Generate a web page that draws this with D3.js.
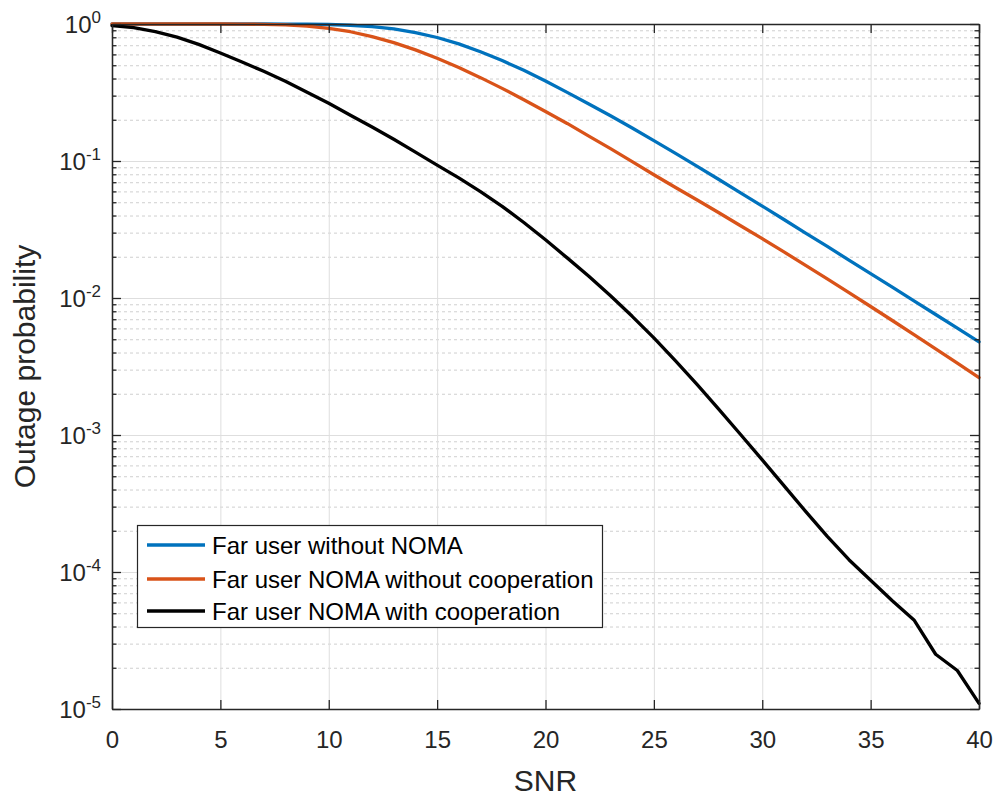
<!DOCTYPE html>
<html>
<head>
<meta charset="utf-8">
<script src="https://cdn.jsdelivr.net/npm/d3@7"></script>
<style>
  html, body { margin: 0; padding: 0; background: #fff; }
  svg { display: block; }
  text { font-family: "Liberation Sans", Arial, Helvetica, sans-serif; }
</style>
</head>
<body>
<svg id="chart" width="998" height="799"></svg>
<script>
// ---- data ----
const snr = [0,1,2,3,4,5,6,7,8,9,10,11,12,13,14,15,16,17,18,19,20,21,22,23,24,25,26,27,28,29,30,31,32,33,34,35,36,37,38,39,40];

const farNoNoma = [1,1,1,1,1,1,1,1,0.9995,0.9976,0.992,0.979,0.958,0.920,0.866,0.797,0.716,0.628,0.541,0.459,0.384,0.317,0.261,0.214,0.174,0.141,0.1136,0.0913,0.0733,0.0586,0.0469,0.0374,0.0298,0.0238,0.0189,0.01507,0.01199,0.00953,0.00758,0.00602,0.00479];

const farNomaNoCoop = [1,1,1,1,1,1,0.9985,0.9944,0.9845,0.964,0.930,0.878,0.810,0.731,0.647,0.562,0.481,0.406,0.339,0.280,0.230,0.188,0.152,0.123,0.0990,0.0794,0.0641,0.0519,0.0419,0.0337,0.0271,0.0217,0.0173,0.0138,0.01094,0.00867,0.00685,0.00541,0.00426,0.00334,0.00262];

const farNomaCoop = [0.973,0.940,0.881,0.802,0.710,0.615,0.528,0.452,0.382,0.318,0.264,0.216,0.177,0.144,0.116,0.0933,0.0753,0.0598,0.0467,0.0356,0.0266,0.01963,0.01439,0.01038,0.00735,0.00511,0.00348,0.00233,0.00154,0.001009,0.000658,0.000427,0.000277,0.000182,0.000123,0.0000871,0.0000617,0.0000447,0.0000251,0.0000191,0.0000110];

const seriesNames = ["Far user without NOMA", "Far user NOMA without cooperation", "Far user NOMA with cooperation"];
const seriesColors = ["#0072BD", "#D95319", "#000000"];
const xTicks = [0,5,10,15,20,25,30,35,40];
const yDecades = [0,-1,-2,-3,-4,-5];

// ---- layout ----
const L = 112, R = 979, T = 24, B = 709;
const svg = d3.select("#chart");
svg.append("rect").attr("width", 998).attr("height", 799).attr("fill", "#fff");

const x = d3.scaleLinear().domain([0, 40]).range([L, R]);
const y = d3.scaleLog().domain([1e-5, 1]).range([B, T]);

const yMajor = yDecades.map(e => Math.pow(10, e));
const yMinor = [];
for (let e = -5; e < 0; e++) for (let m = 2; m <= 9; m++) yMinor.push(m * Math.pow(10, e));

// minor grid (dotted)
svg.append("g").attr("transform", `translate(${L},0)`)
  .call(d3.axisLeft(y).tickValues(yMinor).tickSize(-(R - L)).tickFormat(""))
  .call(g => g.select(".domain").remove())
  .call(g => g.selectAll("line").attr("stroke", "#cfcfcf").attr("stroke-width", 1).attr("stroke-dasharray", "3,3"));

// major grid
svg.append("g").attr("transform", `translate(${L},0)`)
  .call(d3.axisLeft(y).tickValues(yMajor).tickSize(-(R - L)).tickFormat(""))
  .call(g => g.select(".domain").remove())
  .call(g => g.selectAll("line").attr("stroke", "#dedede").attr("stroke-width", 1));
svg.append("g").attr("transform", `translate(0,${B})`)
  .call(d3.axisBottom(x).tickValues(xTicks).tickSize(-(B - T)).tickFormat(""))
  .call(g => g.select(".domain").remove())
  .call(g => g.selectAll("line").attr("stroke", "#dedede").attr("stroke-width", 1));

// curves
const line = d3.line().x(d => x(d[0])).y(d => y(d[1]));
const allSeries = [farNoNoma, farNomaNoCoop, farNomaCoop];
const plot = svg.append("g");
allSeries.forEach((vals, i) => {
  plot.append("path")
    .datum(snr.map((s, k) => [s, vals[k]]))
    .attr("d", line)
    .attr("fill", "none")
    .attr("stroke", seriesColors[i])
    .attr("stroke-width", 3.3)
    .attr("stroke-linejoin", "round")
    .attr("stroke-linecap", "round");
});

// axes box with inward ticks
const axColor = "#262626";
function styleAxis(g) {
  g.selectAll(".domain").attr("stroke", axColor).attr("stroke-width", 1.3);
  g.selectAll(".tick line").attr("stroke", axColor).attr("stroke-width", 1.3);
}
// bottom
svg.append("g").attr("transform", `translate(0,${B})`)
  .call(d3.axisBottom(x).tickValues(xTicks).tickSizeInner(-9).tickSizeOuter(0).tickPadding(22))
  .call(styleAxis)
  .call(g => g.selectAll("text").attr("fill", axColor).attr("font-size", 24));
// top
svg.append("g").attr("transform", `translate(0,${T})`)
  .call(d3.axisTop(x).tickValues(xTicks).tickSizeInner(-9).tickSizeOuter(0).tickFormat(""))
  .call(styleAxis);
// left major / minor
svg.append("g").attr("transform", `translate(${L},0)`)
  .call(d3.axisLeft(y).tickValues(yMinor).tickSizeInner(-4.5).tickSizeOuter(0).tickFormat(""))
  .call(styleAxis);
svg.append("g").attr("transform", `translate(${L},0)`)
  .call(d3.axisLeft(y).tickValues(yMajor).tickSizeInner(-9).tickSizeOuter(0).tickFormat(""))
  .call(styleAxis);
// right major / minor
svg.append("g").attr("transform", `translate(${R},0)`)
  .call(d3.axisRight(y).tickValues(yMinor).tickSizeInner(-4.5).tickSizeOuter(0).tickFormat(""))
  .call(styleAxis);
svg.append("g").attr("transform", `translate(${R},0)`)
  .call(d3.axisRight(y).tickValues(yMajor).tickSizeInner(-9).tickSizeOuter(0).tickFormat(""))
  .call(styleAxis);

// y tick labels 10^n
const yl = svg.append("g");
yDecades.forEach(e => {
  const t = yl.append("text")
    .attr("x", 101).attr("y", y(Math.pow(10, e)) + 8.5)
    .attr("text-anchor", "end").attr("fill", axColor).attr("font-size", 24);
  t.append("tspan").text("10");
  t.append("tspan").attr("dy", -10).attr("font-size", 17).text(e === 0 ? "0" : String(e));
});

// axis labels
svg.append("text").attr("x", (L + R) / 2).attr("y", 791)
  .attr("text-anchor", "middle").attr("fill", axColor).attr("font-size", 30).text("SNR");
svg.append("text").attr("transform", `translate(35,366.5) rotate(-90)`)
  .attr("text-anchor", "middle").attr("fill", axColor).attr("font-size", 30).text("Outage probability");

// legend
const lg = svg.append("g");
lg.append("rect").attr("x", 137.5).attr("y", 525.5).attr("width", 465).attr("height", 102)
  .attr("fill", "#fff").attr("stroke", axColor).attr("stroke-width", 1.2);
const rowY = [545, 579, 611];
seriesNames.forEach((name, i) => {
  lg.append("line").attr("x1", 147).attr("x2", 205).attr("y1", rowY[i]).attr("y2", rowY[i])
    .attr("stroke", seriesColors[i]).attr("stroke-width", 3.3);
  lg.append("text").attr("x", 212).attr("y", rowY[i] + 8.5)
    .attr("fill", "#000").attr("font-size", 24).text(name);
});
</script>
</body>
</html>
